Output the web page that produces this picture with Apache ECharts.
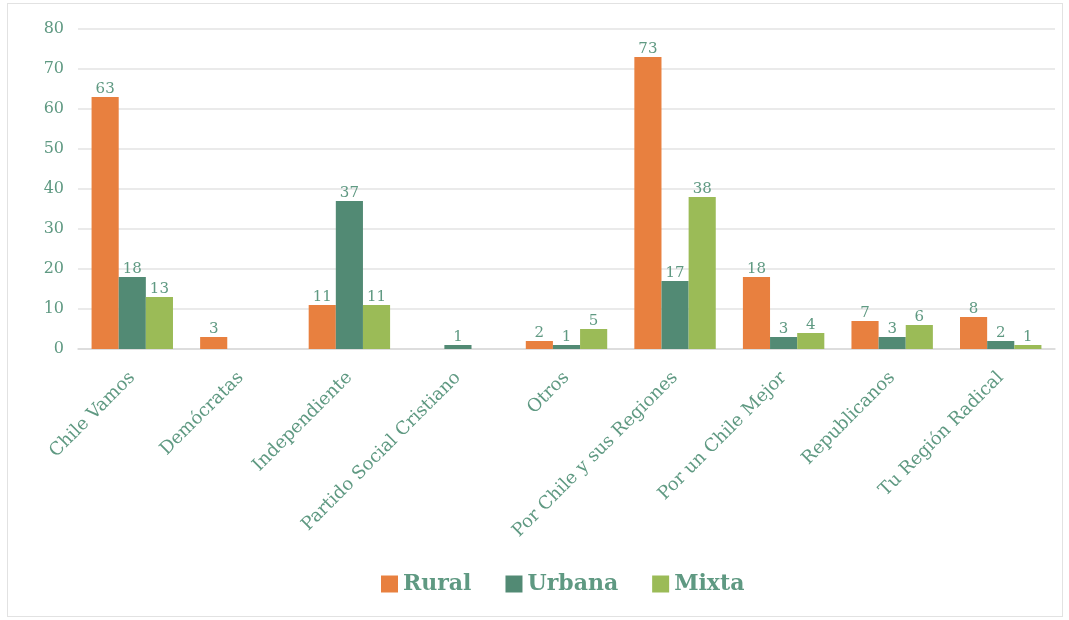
<!DOCTYPE html>
<html><head><meta charset="utf-8">
<script src="https://cdn.jsdelivr.net/npm/echarts@6/dist/echarts.min.js"></script>
<style>
html,body{margin:0;padding:0;background:#fff;}
#frame{position:absolute;left:7px;top:3px;width:1054px;height:612px;border:1px solid #e2e2e2;}
#c{position:absolute;left:0;top:0;width:1069px;height:620px;}
</style></head><body>
<div id="frame"></div>
<div id="c"></div>
<script>
const categories = ["Chile Vamos","Demócratas","Independiente","Partido Social Cristiano","Otros","Por Chile y sus Regiones","Por un Chile Mejor","Republicanos","Tu Región Radical"];
const rural  = [63, 3, 11, null, 2, 73, 18, 7, 8];
const urbana = [18, null, 37, 1, 1, 17, 3, 3, 2];
const mixta  = [13, null, 11, null, 5, 38, 4, 6, 1];
const yTicks = [0,10,20,30,40,50,60,70,80];

const txt = '#5f9982';
const font = 'DejaVu Serif';
const lbl = {show:true, position:'top', color:txt, fontFamily:font, fontSize:15, distance:0};
const chart = echarts.init(document.getElementById('c'));
chart.setOption({
  animation:false,
  grid:{left:78, right:14, top:29, bottom:271, containLabel:false},
  legend:{top:568, left:376, itemWidth:17, itemHeight:17, itemGap:34,
    textStyle:{color:txt, fontFamily:font, fontWeight:'bold', fontSize:22},
    data:['Rural','Urbana','Mixta'], icon:'rect'},
  xAxis:{type:'category', data:categories,
    axisLine:{lineStyle:{color:'#d9d9d9', width:1.5}}, axisTick:{show:false},
    axisLabel:{rotate:45, color:txt, fontFamily:font, fontSize:18, margin:26, interval:0}},
  yAxis:{type:'value', min:yTicks[0], max:yTicks[yTicks.length-1], interval:10,
    axisLabel:{color:txt, fontFamily:font, fontSize:16, margin:14},
    splitLine:{lineStyle:{color:'#e3e3e3', width:1.5}}, axisLine:{show:false}, axisTick:{show:false}},
  series:[
    {name:'Rural', type:'bar', data:rural, itemStyle:{color:'#e8803f'}, barGap:'0%', barCategoryGap:'25%', label:lbl},
    {name:'Urbana', type:'bar', data:urbana, itemStyle:{color:'#528a74'}, label:lbl},
    {name:'Mixta', type:'bar', data:mixta, itemStyle:{color:'#9bbb57'}, label:lbl}
  ]
});
</script></body></html>
